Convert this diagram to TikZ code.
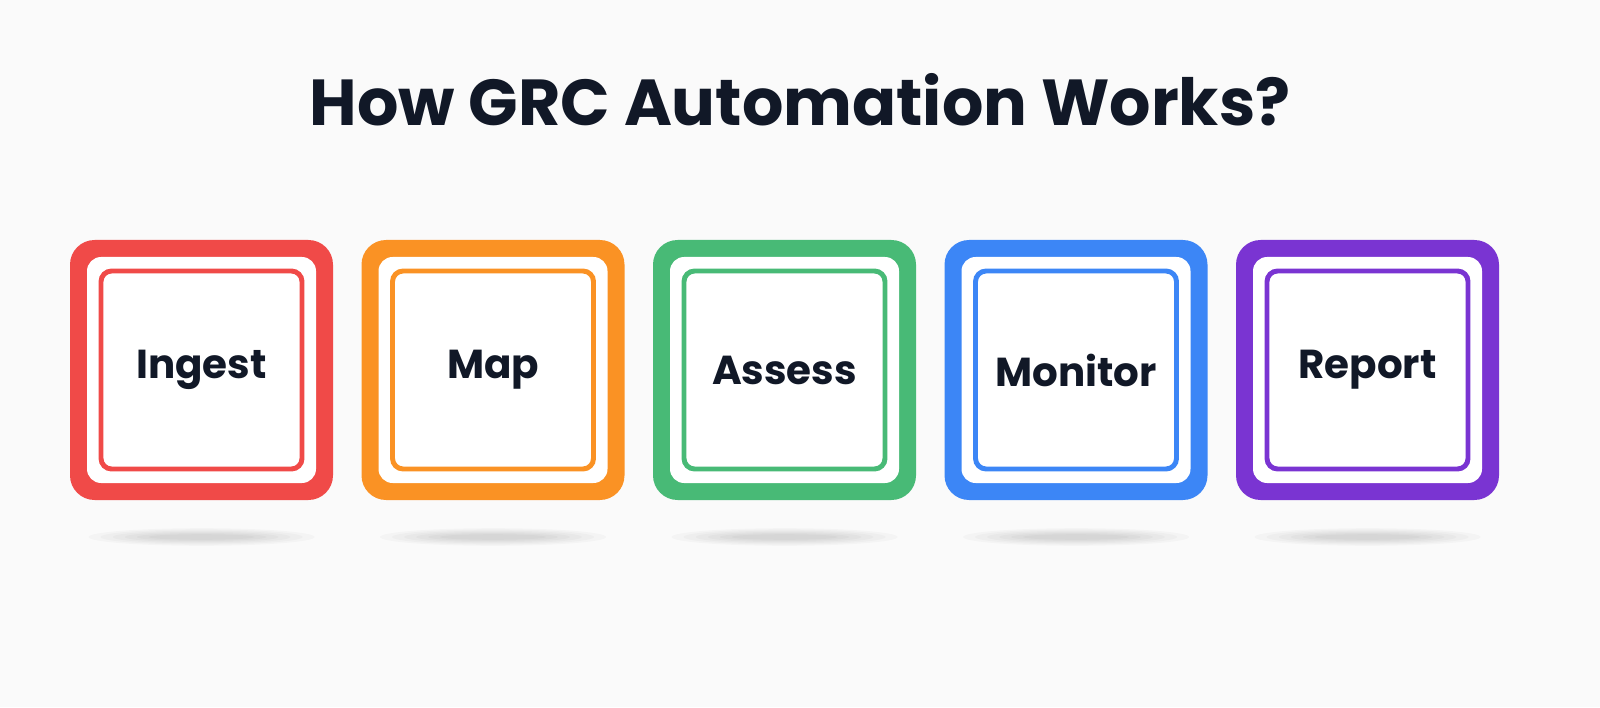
\documentclass[tikz,border=0pt]{standalone}
\usepackage{fontspec}
\setmainfont{Poppins}
\usetikzlibrary{positioning,calc}
\definecolor{bgcolor}{RGB}{250,250,250}
\definecolor{inkcolor}{RGB}{17,24,39}
\definecolor{stepred}{RGB}{240,74,72}
\definecolor{steporange}{RGB}{250,146,36}
\definecolor{stepgreen}{RGB}{72,186,118}
\definecolor{stepblue}{RGB}{60,134,246}
\definecolor{steppurple}{RGB}{122,52,210}
\begin{document}
\begin{tikzpicture}[
                stepbox/.style={rectangle, rounded corners=7pt, minimum width=2.63cm, minimum height=2.60cm, inner sep=0pt},
                inner/.style={rectangle, fill=white, rounded corners=4pt, minimum width=2.29cm, minimum height=2.26cm, inner sep=0pt},
                frame/.style={rectangle, draw, line width=1.4pt, rounded corners=3pt, minimum width=2.01cm, minimum height=1.98cm, inner sep=0pt, font=\fontsize{11.5}{14}\selectfont\bfseries, text=inkcolor}]
                \fill[bgcolor] (0,0) rectangle (16,7.07);
                \useasboundingbox (0,0) rectangle (16,7.07);
                
                % Title
                \node[font=\fontsize{18.5}{22}\selectfont\bfseries, text=inkcolor] (title) at (8,6.07) {How GRC Automation Works?};
                
                % Steps
                \foreach \lbl/\col [count=\i from 0] in {Ingest/stepred, Map/steporange, Assess/stepgreen, Monitor/stepblue, Report/steppurple} {
                    \coordinate (c\i) at (2.015+\i*2.915,3.37);
                    \foreach \k in {1,...,6} {
                        \fill[black, opacity=0.025] ($(c\i)+(0,-1.67)$) ellipse ({1.25-0.12*\k} and {0.10-0.012*\k});
                    }
                    \node[stepbox, fill=\col] (box\i) at (c\i) {};
                    \node[inner] (in\i) at (c\i) {};
                    \node[frame, draw=\col] (step\i) at (c\i) {\lbl};
                }
                
            \end{tikzpicture}
\end{document}
